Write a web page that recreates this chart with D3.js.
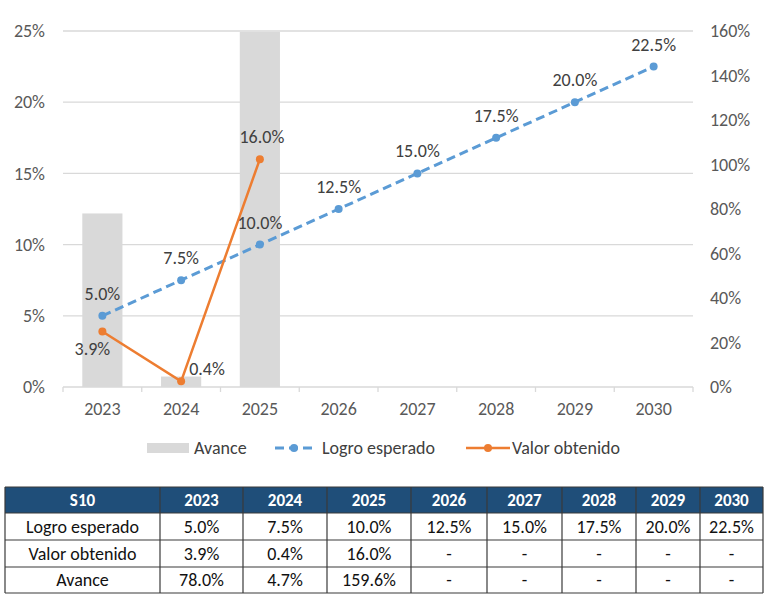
<!DOCTYPE html>
<html>
<head>
<meta charset="utf-8">
<script src="https://cdn.jsdelivr.net/npm/d3@7"></script>
<style>
  body { margin: 0; background: #fff; }
  svg { font-family: Carlito, Calibri, "Liberation Sans", sans-serif; }
</style>
</head>
<body>
<div id="chart"></div>
<script>
// data
var years = ["2023", "2024", "2025", "2026", "2027", "2028", "2029", "2030"];
var logroEsperado = [0.05, 0.075, 0.10, 0.125, 0.15, 0.175, 0.20, 0.225];
var valorObtenido = [0.039, 0.004, 0.16];
var avance = [0.78, 0.047, 1.596];
var leftTicks = [0, 0.05, 0.10, 0.15, 0.20, 0.25];
var rightTicks = [0, 0.2, 0.4, 0.6, 0.8, 1.0, 1.2, 1.4, 1.6];
var tableHead = "S10";
var rowNames = ["Logro esperado", "Valor obtenido", "Avance"];

var W = 768, H = 597;
var margin = { top: 31, right: 75, bottom: 210, left: 63 },
    width = W - margin.left - margin.right,
    height = H - margin.top - margin.bottom;

var blue = "#5B9BD5", orange = "#ED7D31", grey = "#D9D9D9";
var fs = 18;

var svg = d3.select("#chart")
    .append("svg")
    .attr("width", W)
    .attr("height", H);

var g = svg.append("g")
    .attr("transform", "translate(" + margin.left + "," + margin.top + ")");

// scales
var x = d3.scaleBand()
    .domain(years)
    .range([0, width])
    .paddingInner(0.49)
    .paddingOuter(0.245);
var yL = d3.scaleLinear().domain([0, 0.25]).range([height, 0]);
var yR = d3.scaleLinear().domain([0, 1.6]).range([height, 0]);
var cx = function (d) { return x(d) + x.bandwidth() / 2; };

// gridlines
g.selectAll(".grid")
    .data(leftTicks.slice(1))
    .enter()
    .append("line")
    .attr("x1", 0).attr("x2", width)
    .attr("y1", function (d) { return yL(d); })
    .attr("y2", function (d) { return yL(d); })
    .attr("stroke", grey)
    .attr("stroke-width", 1.3);

// left axis
var axL = g.append("g")
    .call(d3.axisLeft(yL).tickValues(leftTicks).tickFormat(d3.format(".0%")).tickSize(0).tickPadding(18));
axL.select(".domain").remove();
axL.selectAll("text").attr("font-size", fs).attr("fill", "#595959")
    .attr("font-family", "Carlito, Calibri, 'Liberation Sans', sans-serif");

// right axis
var axR = g.append("g")
    .attr("transform", "translate(" + width + ",0)")
    .call(d3.axisRight(yR).tickValues(rightTicks).tickFormat(d3.format(".0%")).tickSize(0).tickPadding(17));
axR.select(".domain").remove();
axR.selectAll("text").attr("font-size", fs).attr("fill", "#595959")
    .attr("font-family", "Carlito, Calibri, 'Liberation Sans', sans-serif");

// bars (Avance on right axis)
g.selectAll(".bar")
    .data(avance)
    .enter()
    .append("rect")
    .attr("x", function (d, i) { return x(years[i]); })
    .attr("width", x.bandwidth())
    .attr("y", function (d) { return yR(d); })
    .attr("height", function (d) { return height - yR(d); })
    .attr("fill", grey);

// x axis baseline and ticks between categories
g.append("line")
    .attr("x1", 0).attr("x2", width)
    .attr("y1", height).attr("y2", height)
    .attr("stroke", grey).attr("stroke-width", 1.3);
var half = (x.step() - x.bandwidth()) / 2;
var bounds = years.map(function (d) { return x(d) - half; }).concat([width]);
g.selectAll(".xtick")
    .data(bounds)
    .enter()
    .append("line")
    .attr("x1", function (d) { return d; })
    .attr("x2", function (d) { return d; })
    .attr("y1", height).attr("y2", height + 5)
    .attr("stroke", grey).attr("stroke-width", 1.3);
g.selectAll(".xlab")
    .data(years)
    .enter()
    .append("text")
    .attr("x", cx)
    .attr("y", height + 28)
    .attr("text-anchor", "middle")
    .attr("font-size", fs)
    .attr("fill", "#595959")
    .text(function (d) { return d; });

// Logro esperado line
var lineL = d3.line()
    .x(function (d, i) { return cx(years[i]); })
    .y(function (d) { return yL(d); });
g.append("path")
    .datum(logroEsperado)
    .attr("d", lineL)
    .attr("fill", "none")
    .attr("stroke", blue)
    .attr("stroke-width", 3)
    .attr("stroke-dasharray", "9 5");
g.selectAll(".ptL")
    .data(logroEsperado)
    .enter()
    .append("circle")
    .attr("cx", function (d, i) { return cx(years[i]); })
    .attr("cy", function (d) { return yL(d); })
    .attr("r", 4)
    .attr("fill", blue);

// Valor obtenido line
g.append("path")
    .datum(valorObtenido)
    .attr("d", lineL)
    .attr("fill", "none")
    .attr("stroke", orange)
    .attr("stroke-width", 2.5);
g.selectAll(".ptV")
    .data(valorObtenido)
    .enter()
    .append("circle")
    .attr("cx", function (d, i) { return cx(years[i]); })
    .attr("cy", function (d) { return yL(d); })
    .attr("r", 4)
    .attr("fill", orange);

// data labels
var pct1 = d3.format(".1%");
g.selectAll(".lblL")
    .data(logroEsperado)
    .enter()
    .append("text")
    .attr("x", function (d, i) { return cx(years[i]); })
    .attr("y", function (d) { return yL(d) - 16; })
    .attr("text-anchor", "middle")
    .attr("font-size", fs)
    .attr("fill", "#404040")
    .text(pct1);

// label offsets for Valor obtenido: below-left, right, above
var vOff = [[-10, 24, "middle"], [8, -6, "start"], [2, -16, "middle"]];
g.selectAll(".lblV")
    .data(valorObtenido)
    .enter()
    .append("text")
    .attr("x", function (d, i) { return cx(years[i]) + vOff[i][0]; })
    .attr("y", function (d, i) { return yL(d) + vOff[i][1]; })
    .attr("text-anchor", function (d, i) { return vOff[i][2]; })
    .attr("font-size", fs)
    .attr("fill", "#404040")
    .text(pct1);

// legend
var lg = svg.append("g").attr("transform", "translate(0,448)");
lg.append("rect").attr("x", 147).attr("y", -5).attr("width", 42).attr("height", 10).attr("fill", grey);
lg.append("text").attr("x", 194).attr("y", 6).attr("font-size", fs).attr("fill", "#404040").text("Avance");
lg.append("line").attr("x1", 274).attr("x2", 314).attr("y1", 0).attr("y2", 0)
    .attr("stroke", blue).attr("stroke-width", 3).attr("stroke-dasharray", "9 5").attr("stroke-dashoffset", -1);
lg.append("circle").attr("cx", 294).attr("cy", 0).attr("r", 4).attr("fill", blue);
lg.append("text").attr("x", 322).attr("y", 6).attr("font-size", fs).attr("fill", "#404040").text("Logro esperado");
lg.append("line").attr("x1", 466).attr("x2", 510).attr("y1", 0).attr("y2", 0)
    .attr("stroke", orange).attr("stroke-width", 2.5);
lg.append("circle").attr("cx", 488).attr("cy", 0).attr("r", 4).attr("fill", orange);
lg.append("text").attr("x", 512).attr("y", 6).attr("font-size", fs).attr("fill", "#404040").text("Valor obtenido");

// table
var colEdges = [5, 160, 243, 327, 411, 487, 562, 636, 700, 763];
var rowEdges = [487, 513, 540, 567, 593];
var fmtCell = function (arr, i) { return arr[i] === undefined ? "-" : pct1(arr[i]); };
var tableRows = [
    [tableHead].concat(years),
    [rowNames[0]].concat(years.map(function (d, i) { return fmtCell(logroEsperado, i); })),
    [rowNames[1]].concat(years.map(function (d, i) { return fmtCell(valorObtenido, i); })),
    [rowNames[2]].concat(years.map(function (d, i) { return fmtCell(avance, i); }))
];

var tb = svg.append("g");
tb.append("rect")
    .attr("x", colEdges[0]).attr("y", rowEdges[0])
    .attr("width", colEdges[9] - colEdges[0]).attr("height", rowEdges[1] - rowEdges[0])
    .attr("fill", "#1F4E79");

tableRows.forEach(function (row, r) {
    tb.selectAll(".cell" + r)
        .data(row)
        .enter()
        .append("text")
        .attr("x", function (d, c) { return (colEdges[c] + colEdges[c + 1]) / 2; })
        .attr("y", (rowEdges[r] + rowEdges[r + 1]) / 2 + 6)
        .attr("text-anchor", "middle")
        .attr("font-size", r === 0 ? 17 : fs)
        .attr("font-weight", r === 0 ? "bold" : "normal")
        .attr("fill", r === 0 ? "#fff" : "#111")
        .text(function (d) { return d; });
});

// table grid lines
tb.selectAll(".hl")
    .data(rowEdges)
    .enter()
    .append("line")
    .attr("x1", colEdges[0]).attr("x2", colEdges[9])
    .attr("y1", function (d) { return d; }).attr("y2", function (d) { return d; })
    .attr("stroke", "#3a3a3a").attr("stroke-width", 1.2);
tb.selectAll(".vl")
    .data(colEdges)
    .enter()
    .append("line")
    .attr("x1", function (d) { return d; }).attr("x2", function (d) { return d; })
    .attr("y1", rowEdges[0]).attr("y2", rowEdges[4])
    .attr("stroke", "#3a3a3a").attr("stroke-width", 1.2);
</script>
</body>
</html>
